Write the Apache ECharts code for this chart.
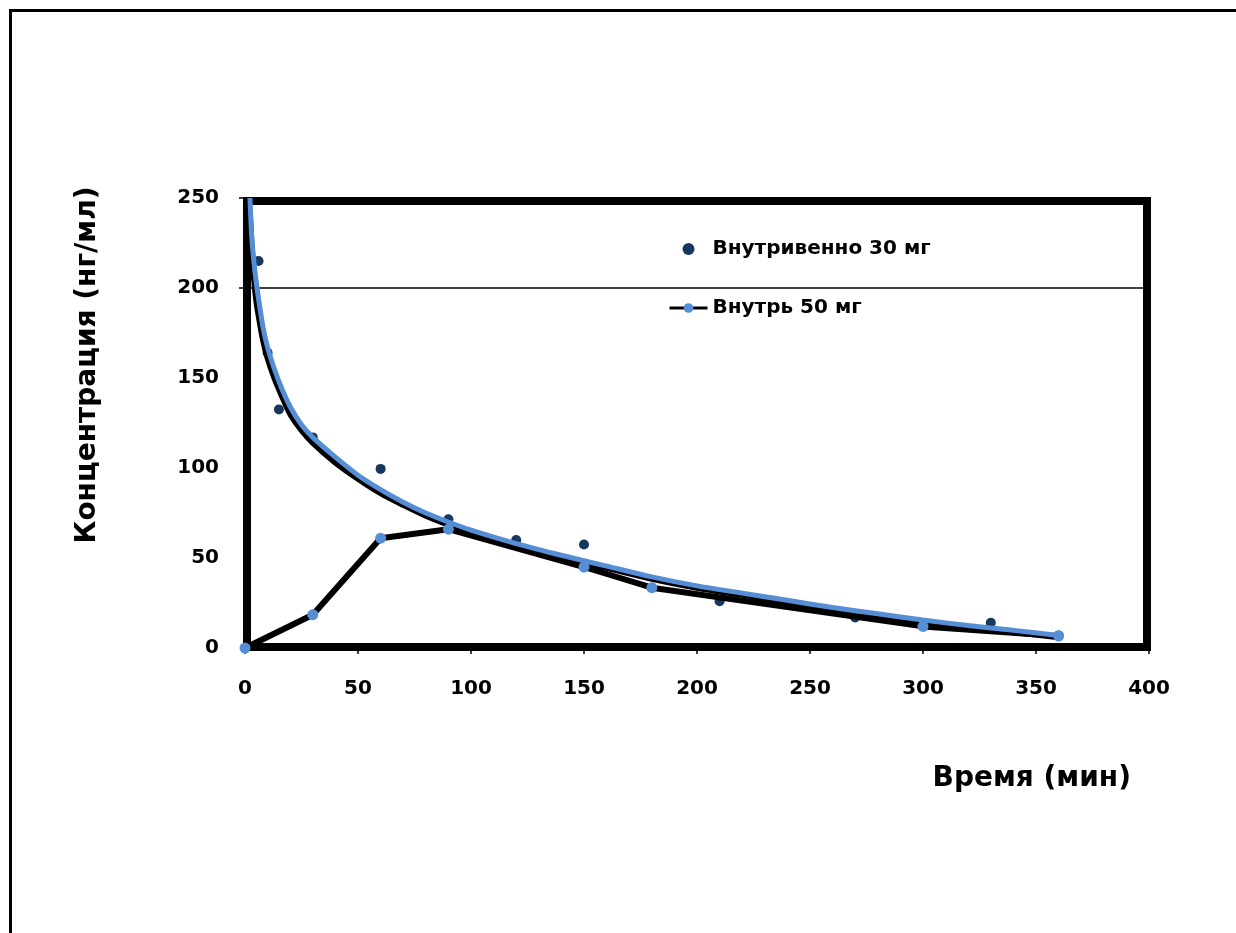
<!DOCTYPE html>
<html>
<head>
<meta charset="utf-8">
<script src="https://cdn.jsdelivr.net/npm/echarts@6/dist/echarts.min.js"></script>
<style>
html,body{margin:0;padding:0;background:#fff;}
#chart{width:1236px;height:933px;}
</style>
</head>
<body>
<div id="chart"></div>
<script>
// Data
var ivX  = [6, 10, 15, 30, 60, 90, 120, 150, 210, 270, 330, 360];
var ivY  = [215, 164, 132.5, 117, 99.5, 71.5, 60, 57.5, 26, 17, 14, 7];

var oralX = [0, 30, 60, 90, 150, 180, 300, 360];
var oralY = [0, 18.5, 61, 66, 45, 33.5, 12, 6.6];

var trendX      = [2.2, 3, 4, 5, 6, 8, 10, 13, 16, 20, 25, 30, 40, 50, 60, 70, 80, 90, 100, 120, 140, 160, 180, 200, 220, 240, 260, 280, 300, 320, 340, 360];
var blueTrendY  = [250, 228, 214, 203, 194, 178, 167, 155, 145, 134, 124, 117, 106, 96, 88, 81, 75, 70, 65.5, 58, 51.5, 45.5, 39.5, 34.5, 30.5, 26.5, 22.5, 19, 15.5, 12.5, 9.8, 7];
var blackTrendY = [240, 222, 205, 193, 185, 171, 161, 150, 141, 130, 121, 114, 103, 94, 86, 79.5, 73.5, 68.5, 64, 57, 50.5, 44.5, 38.5, 33.5, 29.5, 25.5, 21.5, 18, 14.5, 11.5, 8.8, 6];

var yTicks = [0, 50, 100, 150, 200, 250];
var xTicks = [0, 50, 100, 150, 200, 250, 300, 350, 400];

var nameIV = 'Внутривенно 30 мг';
var nameOral = 'Внутрь 50 мг';

function pairs(xs, ys){ return xs.map(function(x,i){ return [x, ys[i]]; }); }

var FONT = '"DejaVu Sans", Verdana, sans-serif';
var chart = echarts.init(document.getElementById('chart'), null, {renderer:'canvas'});

chart.setOption({
  backgroundColor: '#ffffff',
  animation: false,
  grid: { left: 245, right: 87, top: 198, bottom: 285, containLabel: false },
  xAxis: {
    type: 'value', min: xTicks[0], max: xTicks[xTicks.length-1], interval: 50,
    axisLine: { show: false },
    axisTick: { show: true, length: 6, lineStyle: { color: '#000', width: 1.5 } },
    splitLine: { show: false },
    axisLabel: { margin: 31, color: '#000', fontFamily: FONT, fontWeight: 'bold', fontSize: 20 }
  },
  yAxis: {
    type: 'value', min: yTicks[0], max: yTicks[yTicks.length-1], interval: 50,
    axisLine: { show: false },
    axisTick: { show: true, length: 6, customValues: [200, 250], lineStyle: { color: '#000', width: 1.5 } },
    splitLine: { show: false },
    axisLabel: { margin: 26, color: '#000', fontFamily: FONT, fontWeight: 'bold', fontSize: 20 }
  },
  legend: {
    data: [nameIV, nameOral],
    orient: 'vertical',
    left: 668, top: 239, padding: 0,
    itemWidth: 38, itemHeight: 12, itemGap: 39,
    textStyle: { color: '#000', fontFamily: FONT, fontWeight: 'bold', fontSize: 20, lineHeight: 18 },
    lineStyle: { width: 3 }
  },
  graphic: [
    { type: 'rect', z: -10, shape: { x: 9, y: 9, width: 1230, height: 3 }, style: { fill: '#000' } },
    { type: 'rect', z: -10, shape: { x: 9, y: 9, width: 3, height: 930 }, style: { fill: '#000' } },
    { type: 'rect', z: 0, shape: { x: 247, y: 201, width: 900, height: 446 }, style: { fill: 'none', stroke: '#000', lineWidth: 8 } },
    { type: 'text', z: 5, x: 1131, y: 779, style: { text: 'Время (мин)', fill: '#000', font: 'bold 28px ' + FONT, textAlign: 'right', textVerticalAlign: 'middle' } },
    { type: 'text', z: 5, x: 88, y: 365, rotation: Math.PI/2, style: { text: 'Концентрация (нг/мл)', fill: '#000', font: 'bold 28px ' + FONT, textAlign: 'center', textVerticalAlign: 'middle' } }
  ],
  series: [
    {
      name: nameIV, type: 'scatter', z: 2,
      data: pairs(ivX, ivY),
      symbol: 'circle', symbolSize: 10,
      itemStyle: { color: '#17375E', opacity: 1 }
    },
    {
      name: 'Лог. (' + nameIV + ')', type: 'line', z: 3,
      data: pairs(trendX, blackTrendY),
      showSymbol: false, symbol: 'none', smooth: 0.3,
      lineStyle: { color: '#000', width: 6 }
    },
    {
      name: nameOral, type: 'line', z: 4,
      data: pairs(oralX, oralY),
      symbol: 'circle', symbolSize: 11, showSymbol: true,
      lineStyle: { color: '#000', width: 6 },
      itemStyle: { color: '#558ED5', borderWidth: 0, opacity: 1 }
    },
    {
      name: 'Лог. (' + nameOral + ')', type: 'line', z: 5,
      data: pairs(trendX, blueTrendY),
      showSymbol: false, symbol: 'none', smooth: 0.3,
      lineStyle: { color: '#558ED5', width: 5 },
      markLine: {
        silent: true, symbol: ['none','none'], label: { show: false },
        lineStyle: { color: '#000', width: 1.5, type: 'solid' },
        data: [ { yAxis: 200 } ]
      }
    }
  ]
});
</script>
</body>
</html>
